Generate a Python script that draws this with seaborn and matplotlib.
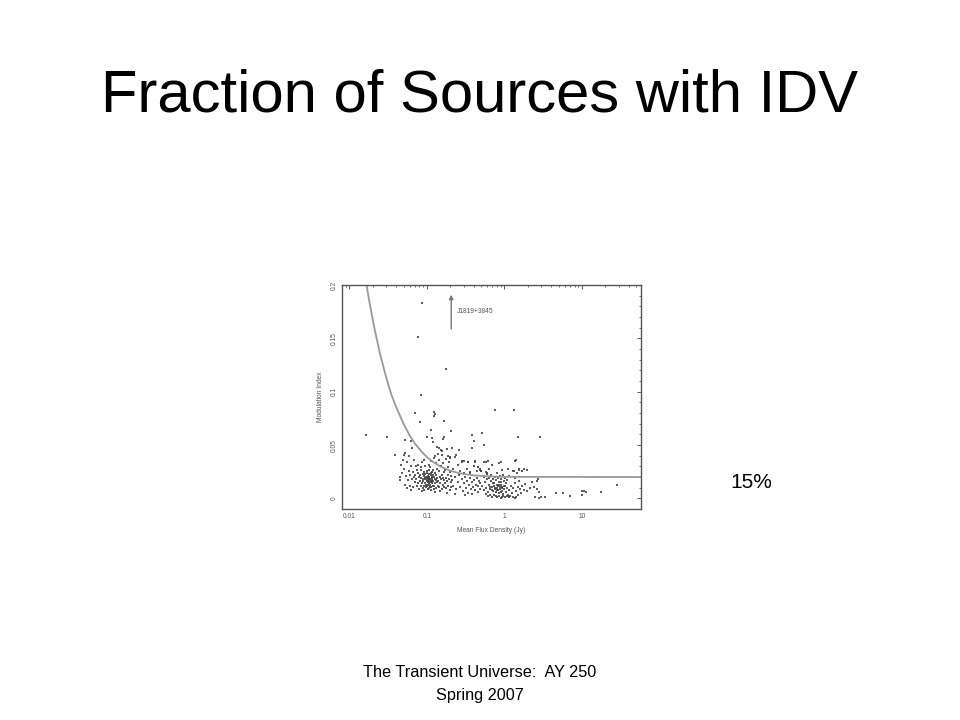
import matplotlib
matplotlib.use("Agg")
import matplotlib.pyplot as plt
import matplotlib.ticker as mticker
import seaborn as sns
import pandas as pd

# ---------- Scatter: mean flux density vs modulation index ----------
flux = [
    # outliers above the cloud
    0.087, 0.078, 0.175, 0.084, 0.070, 0.124, 0.126, 0.123, 0.082, 0.164,
    0.76, 1.32, 0.0164, 0.031, 0.207, 0.112, 0.377, 0.52, 1.48, 2.9,
    0.41, 0.55, 0.039, 0.053, 0.062, 0.051, 0.10, 0.115, 0.135, 0.16, 0.165,
    0.119, 0.38, 0.145, 0.156, 0.141, 0.128, 0.19, 0.20, 0.23,
    # left sparse
    0.045, 0.045, 0.046, 0.048, 0.050, 0.052, 0.054, 0.055, 0.057, 0.058,
    0.060, 0.061, 0.063, 0.064, 0.066, 0.067, 0.068, 0.069, 0.053, 0.059,
    0.065, 0.062, 0.070, 0.056, 0.049,
    # cluster around 0.1 Jy
    0.071, 0.073, 0.075, 0.076, 0.078, 0.079, 0.080, 0.074, 0.077, 0.072,
    0.081, 0.082, 0.083, 0.084, 0.085, 0.086, 0.087, 0.088, 0.089, 0.083, 0.086, 0.088,
    0.090, 0.091, 0.092, 0.093, 0.094, 0.095, 0.096, 0.097, 0.098, 0.099,
    0.091, 0.094, 0.096, 0.098, 0.093, 0.099,
    0.100, 0.101, 0.102, 0.103, 0.104, 0.105, 0.106, 0.107, 0.108, 0.109,
    0.100, 0.102, 0.104, 0.106, 0.108, 0.101, 0.103, 0.105, 0.107, 0.109,
    0.110, 0.111, 0.112, 0.113, 0.114, 0.115, 0.116, 0.117, 0.118, 0.119,
    0.111, 0.113, 0.115, 0.117, 0.119, 0.112, 0.114,
    0.120, 0.122, 0.124, 0.126, 0.128, 0.130, 0.132, 0.134, 0.136, 0.138,
    0.121, 0.125, 0.129, 0.133, 0.137, 0.123, 0.131, 0.127,
    0.140, 0.143, 0.146, 0.149, 0.152, 0.155, 0.158, 0.161, 0.164, 0.167,
    0.142, 0.148, 0.154, 0.160, 0.166, 0.145, 0.157, 0.150, 0.163,
    0.170, 0.174, 0.178, 0.182, 0.186, 0.190, 0.194, 0.198, 0.202, 0.206,
    0.172, 0.180, 0.188, 0.196, 0.204, 0.176, 0.192, 0.184, 0.200,
    # middle
    0.21, 0.22, 0.23, 0.24, 0.25, 0.26, 0.27, 0.28, 0.29, 0.30,
    0.31, 0.32, 0.33, 0.34, 0.35, 0.36, 0.37, 0.38, 0.39, 0.40,
    0.42, 0.43, 0.44, 0.45, 0.46, 0.47, 0.48, 0.49, 0.22, 0.25,
    0.27, 0.30, 0.33, 0.36, 0.40, 0.44, 0.23, 0.31, 0.38, 0.24,
    0.28, 0.34, 0.42, 0.21, 0.26, 0.46, 0.49, 0.50,
    0.28, 0.34, 0.42, 0.54, 0.62, 0.89, 1.37, 1.52, 1.78, 0.46,
    0.49, 0.50, 0.57, 0.59, 0.30, 0.36, 1.27,
    # cluster around 1 Jy
    0.52, 0.54, 0.56, 0.58, 0.60, 0.62, 0.64, 0.66, 0.68, 0.70,
    0.72, 0.74, 0.76, 0.78, 0.80, 0.82, 0.84, 0.86, 0.88, 0.90,
    0.92, 0.94, 0.96, 0.98, 1.00, 1.03, 1.06, 1.09, 1.12, 1.16,
    1.20, 1.25,
    0.55, 0.59, 0.63, 0.67, 0.71, 0.75, 0.79, 0.83, 0.87, 0.91,
    0.95, 1.01, 1.08, 1.15,
    0.57, 0.61, 0.65, 0.69, 0.73, 0.77, 0.81, 0.85, 0.89, 0.93,
    0.97, 1.02, 1.07, 1.13, 1.19, 1.27, 1.35, 1.42,
    0.65, 0.69, 0.73, 0.77, 0.81, 0.85, 0.89, 0.93, 0.71, 0.79,
    0.87, 0.75, 0.83, 0.91, 0.99, 1.05,
    0.63, 0.70, 0.84, 0.92, 0.58, 1.10,
    # right side
    1.30, 1.36, 1.42, 1.48, 1.55, 1.62, 1.70, 1.38, 1.50, 1.58,
    1.45, 1.33, 1.67, 1.94, 1.85, 2.28, 2.6, 2.7, 1.80, 1.94,
    2.15, 2.4, 2.6, 2.76, 2.5, 2.76, 3.0, 3.3, 1.40, 1.52,
    # far right
    4.55, 5.75, 6.9, 9.9, 10.6, 11.3, 9.9, 17.8, 28.4,
]
mod_index = [
    0.183, 0.151, 0.121, 0.097, 0.080, 0.081, 0.079, 0.077, 0.072, 0.073,
    0.083, 0.083, 0.059, 0.058, 0.063, 0.064, 0.059, 0.061, 0.058, 0.058,
    0.054, 0.050, 0.041, 0.055, 0.054, 0.041, 0.058, 0.057, 0.048, 0.056, 0.058,
    0.053, 0.047, 0.047, 0.044, 0.042, 0.040, 0.040, 0.039, 0.039,
    0.020, 0.017, 0.031, 0.024, 0.028, 0.013, 0.021, 0.034, 0.017, 0.026,
    0.012, 0.022, 0.030, 0.018, 0.025, 0.011, 0.036, 0.020, 0.043, 0.040,
    0.047, 0.008, 0.015, 0.010, 0.036,
    0.022, 0.018, 0.027, 0.014, 0.031, 0.020, 0.009, 0.012, 0.024, 0.030,
    0.016, 0.022, 0.012, 0.027, 0.019, 0.034, 0.014, 0.010, 0.023, 0.029, 0.007, 0.018,
    0.016, 0.021, 0.012, 0.025, 0.018, 0.014, 0.030, 0.011, 0.020, 0.016,
    0.008, 0.023, 0.019, 0.013, 0.036, 0.024,
    0.017, 0.012, 0.021, 0.015, 0.019, 0.010, 0.023, 0.014, 0.018, 0.011,
    0.026, 0.016, 0.013, 0.020, 0.027, 0.019, 0.009, 0.017, 0.031, 0.015,
    0.018, 0.013, 0.022, 0.016, 0.011, 0.020, 0.014, 0.025, 0.017, 0.012,
    0.029, 0.008, 0.015, 0.019, 0.022, 0.035, 0.024,
    0.016, 0.012, 0.020, 0.014, 0.018, 0.010, 0.022, 0.015, 0.019, 0.012,
    0.027, 0.009, 0.024, 0.017, 0.028, 0.038, 0.033, 0.006,
    0.016, 0.011, 0.020, 0.014, 0.018, 0.009, 0.022, 0.013, 0.017, 0.025,
    0.026, 0.007, 0.030, 0.019, 0.011, 0.036, 0.041, 0.045, 0.033,
    0.014, 0.019, 0.010, 0.016, 0.022, 0.012, 0.018, 0.008, 0.015, 0.021,
    0.027, 0.005, 0.029, 0.025, 0.011, 0.037, 0.034, 0.046, 0.038,
    0.017, 0.012, 0.020, 0.009, 0.015, 0.022, 0.011, 0.018, 0.007, 0.014,
    0.020, 0.010, 0.016, 0.005, 0.013, 0.019, 0.009, 0.015, 0.011, 0.017,
    0.008, 0.013, 0.019, 0.006, 0.012, 0.016, 0.009, 0.014, 0.028, 0.031,
    0.026, 0.035, 0.028, 0.024, 0.030, 0.026, 0.004, 0.003, 0.004, 0.041,
    0.034, 0.034, 0.034, 0.047, 0.045, 0.029, 0.027, 0.026,
    0.035, 0.034, 0.035, 0.034, 0.035, 0.034, 0.035, 0.027, 0.028, 0.029,
    0.0276, 0.026, 0.025, 0.024, 0.024, 0.025, 0.026,
    0.012, 0.008, 0.015, 0.010, 0.018, 0.006, 0.013, 0.009, 0.016, 0.011,
    0.007, 0.014, 0.010, 0.017, 0.008, 0.012, 0.005, 0.015, 0.009, 0.013,
    0.007, 0.011, 0.004, 0.016, 0.009, 0.012, 0.006, 0.010, 0.003, 0.008,
    0.012, 0.005,
    0.020, 0.023, 0.019, 0.022, 0.018, 0.020, 0.024, 0.019, 0.021, 0.018,
    0.022, 0.019, 0.017, 0.021,
    0.004, 0.002, 0.003, 0.001, 0.003, 0.002, 0.001, 0.002, 0.000, 0.001,
    0.002, 0.001, 0.002, 0.001, 0.002, 0.001, 0.000, 0.001,
    0.011, 0.008, 0.012, 0.006, 0.010, 0.013, 0.006, 0.010, 0.014, 0.013,
    0.011, 0.009, 0.008, 0.015, 0.012, 0.014,
    0.028, 0.031, 0.033, 0.027, 0.034, 0.028,
    0.010, 0.014, 0.007, 0.011, 0.016, 0.005, 0.012, 0.019, 0.003, 0.009,
    0.024, 0.026, 0.026, 0.027, 0.0135, 0.015, 0.016, 0.018, 0.008, 0.0066,
    0.0098, 0.0103, 0.0088, 0.0056, 0.001, 0.0004, 0.001, 0.001, 0.036, 0.028,
    0.005, 0.0047, 0.0019, 0.0072, 0.0066, 0.0063, 0.0032, 0.0063, 0.0129,
]

# ---------- Threshold curve ----------
curve_flux = [0.0155, 0.018, 0.021, 0.025, 0.03, 0.035, 0.04, 0.05, 0.06, 0.07,
              0.085, 0.1, 0.12, 0.15, 0.2, 0.25, 0.3, 0.4, 0.5, 0.7, 1.0, 60]
curve_mod = [0.214, 0.186, 0.160, 0.135, 0.113, 0.097, 0.086, 0.070, 0.059, 0.0515,
             0.044, 0.0388, 0.0342, 0.0298, 0.0259, 0.024, 0.0228, 0.0216, 0.0211,
             0.0205, 0.0202, 0.020]

title = "Fraction of Sources with IDV"
footer_1 = "The Transient Universe:  AY 250"
footer_2 = "Spring 2007"
fraction_label = "15%"

pts = pd.DataFrame({"flux": flux, "mod": mod_index})
curve = pd.DataFrame({"flux": curve_flux, "mod": curve_mod})

sns.set_style("white")
plt.rcParams["font.family"] = ["Liberation Sans", "DejaVu Sans"]
plt.rcParams["text.color"] = "black"

fig = plt.figure(figsize=(9.6, 7.2), dpi=100)
ax = fig.add_axes([0.356, 0.293, 0.312, 0.311])

sns.lineplot(data=curve, x="flux", y="mod", ax=ax, color="#999999", lw=1.3)
sns.scatterplot(data=pts, x="flux", y="mod", ax=ax, s=4.5, color="#404040",
                linewidth=0, marker="s", alpha=0.85)

ax.set_xscale("log")
ax.set_xlim(0.008, 58)
ax.set_ylim(-0.01, 0.2)
ax.xaxis.set_major_locator(mticker.FixedLocator([0.01, 0.1, 1, 10]))
ax.xaxis.set_major_formatter(mticker.FixedFormatter(["0.01", "0.1", "1", "10"]))
ax.xaxis.set_minor_locator(mticker.LogLocator(base=10, subs=range(2, 10)))
ax.yaxis.set_major_locator(mticker.FixedLocator([0, 0.05, 0.1, 0.15, 0.2]))
ax.yaxis.set_major_formatter(mticker.FixedFormatter(["0", "0.05", "0.1", "0.15", "0.2"]))
ax.yaxis.set_minor_locator(mticker.MultipleLocator(0.01))
ax.tick_params(which="both", direction="in", top=True, right=True,
               color="#555555", labelcolor="#555555", labelsize=4.8, pad=3)
ax.tick_params(which="major", length=3, width=0.7)
ax.tick_params(which="minor", length=1.5, width=0.6)
for lbl in ax.get_yticklabels():
    lbl.set_rotation(90)
    lbl.set_va("center")
for sp in ax.spines.values():
    sp.set_color("#555555")
    sp.set_linewidth(1.0)

ax.set_xlabel("Mean Flux Density (Jy)", fontsize=4.8, color="#555555", labelpad=5)
ax.set_ylabel("Modulation Index", fontsize=4.8, color="#555555", labelpad=5)

ax.annotate("", xy=(0.206, 0.191), xytext=(0.206, 0.159),
            arrowprops=dict(arrowstyle="-|>", color="#777777", lw=1.0,
                            mutation_scale=6, shrinkA=0, shrinkB=0))
ax.text(0.245, 0.175, "J1819+3845", fontsize=4.8, color="#555555", va="center")

fig.text(0.5, 1 - 112 / 720, title, ha="center", va="baseline", fontsize=43, color="black")
fig.text(0.5, 1 - 677 / 720, footer_1, ha="center", va="baseline", fontsize=11.7, color="black")
fig.text(0.5, 1 - 700 / 720, footer_2, ha="center", va="baseline", fontsize=11.7, color="black")
fig.text(730 / 960, 1 - 488 / 720, fraction_label, ha="left", va="baseline",
         fontsize=15, color="black")

fig.savefig("out.png", dpi=100)
